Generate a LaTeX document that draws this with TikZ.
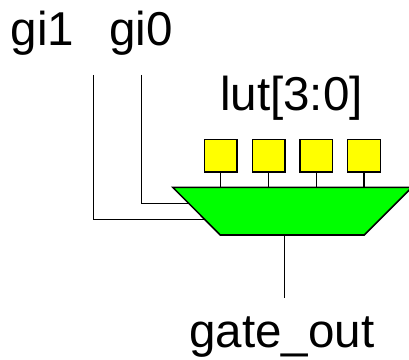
\documentclass[tikz,border=0pt]{standalone}
\usepackage{fontspec}
\setmainfont{Liberation Sans}

\definecolor{lutyellow}{RGB}{255,255,0}
\definecolor{muxgreen}{RGB}{0,255,0}

\tikzset{
	wire/.style={draw=black, line width=1.1pt},
	lutbox/.style={draw=black, line width=1.1pt, fill=lutyellow, minimum size=32.6*0.711pt, inner sep=0pt},
	muxbox/.style={draw=black, line width=1.1pt, fill=muxgreen},
	lbl/.style={font=\fontsize{33.8pt}{36pt}\selectfont, anchor=base, inner sep=0pt}
}

\begin{document}
\begin{tikzpicture}[x=0.025cm, y=-0.025cm]
	\useasboundingbox (0, 0) rectangle (409, 360);
	\clip (0, 0) rectangle (409, 360);

	% labels
	\node[lbl] (gi1) at (42.5, 46) {gi1};
	\node[lbl] (gi0) at (141, 46) {gi0};
	\node[lbl] (lut) at (291.5, 110.5) {lut[3:0]};
	\node[lbl] (gate) at (282, 348) {gate\_out};

	% entrees
	\coordinate (gi1top) at (93.3, 75);
	\coordinate (gi0top) at (141.3, 75);
	\coordinate (gi1in) at (205, 219.3);
	\coordinate (gi0in) at (189, 203.3);
	\draw[wire] (gi1top) |- (gi1in);
	\draw[wire] (gi0top) |- (gi0in);

	% multiplexeur
	\coordinate (muxtop) at (292.3, 187.3);
	\coordinate (muxbot) at (292.3, 235);
	\draw[muxbox] (172.7, 187.3) -- (412, 187.3) -- (364.3, 235) -- (220.3, 235) -- cycle;

	% cases lut
	\node[lutbox] (lut3) at (220.7, 155.7) {};
	\node[lutbox] (lut2) at (268.6, 155.7) {};
	\node[lutbox] (lut1) at (316.4, 155.7) {};
	\node[lutbox] (lut0) at (364, 155.7) {};

	% liaisons lut vers multiplexeur
	\foreach \i in {0, ..., 3} {
		\draw[wire] (lut\i.south) -- (lut\i.south |- muxtop);
	}

	% sortie
	\coordinate (gateend) at (284.3, 298);
	\draw[wire] (muxbot -| gateend) -- (gateend);
\end{tikzpicture}
\end{document}
